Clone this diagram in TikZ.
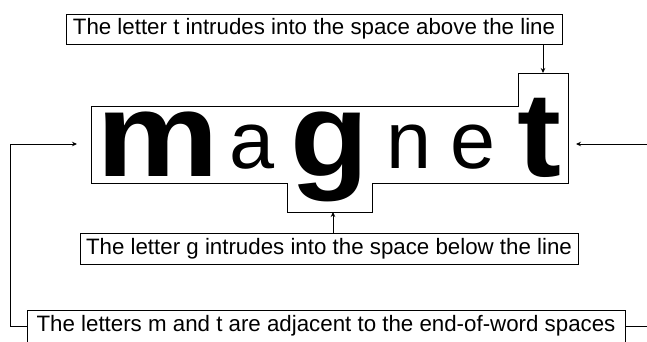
\documentclass[tikz,border=0pt]{standalone}
\usepackage{fontspec}
\setmainfont{Liberation Sans}
\usetikzlibrary{arrows.meta}
\tikzset{
  note/.style={draw=black, line width=0.9pt, inner sep=0pt, align=center,
    font=\fontsize{22.3}{24}\selectfont},
  big/.style={inner sep=0pt, anchor=base west,
    font=\fontsize{120}{120}\selectfont\bfseries},
  small/.style={inner sep=0pt, anchor=base west,
    font=\fontsize{81}{81}\selectfont},
  outline/.style={draw=black, line width=0.9pt},
  arr/.style={draw=black, line width=0.9pt, -{Stealth[length=5pt,width=4.5pt]}}
}
\begin{document}
\begin{tikzpicture}[x=1pt,y=-1pt]
\useasboundingbox (0,0) rectangle (647,341);
\fill[white] (0,0) rectangle (647,341);
\clip (0,0) rectangle (647,341);
% word outline
\draw[outline] (91,106) -- (518,106) -- (518,73) -- (568,73) -- (568,183)
  -- (372,183) -- (372,212) -- (287,212) -- (287,183) -- (91,183) -- cycle;
\coordinate (ttop) at (543,73);
\coordinate (gbot) at (333,212);
\coordinate (larr) at (77,144);
\coordinate (lbend) at (10,144);
\coordinate (rarr) at (576,144);
\coordinate (rbend) at (665,144);
% letters
\node[big] (m) at (96,176.5) {\scalebox{1.15}[1]{m}};
\node[small] (a) at (229,168) {a};
\node[big] (g) at (290,176.5) {\scalebox{1.07}[1]{g}};
\node[small] (n) at (386,168) {n};
\node[small] (e) at (450,168) {e};
\node[big] (t) at (517,176.5) {\scalebox{1.1}[1]{t}};
% notes
\node[note, minimum width=496pt, minimum height=30pt] (topnote) at (314,29)
  {The letter t intrudes into the space above the line};
\node[note, minimum width=498pt, minimum height=31pt] (gnote) at (329,248.5)
  {The letter g intrudes into the space below the line};
\node[note, minimum width=598pt, minimum height=32pt] (endnote) at (326,326)
  {The letters m and t are adjacent to the end-of-word spaces};
% connectors
\draw[arr] (topnote.south -| ttop) -- (ttop);
\draw[arr] (gnote.north -| gbot) -- (gbot);
\draw[arr] (endnote.west) -| (lbend) -- (larr);
\draw[arr] (endnote.east) -| (rbend) -- (rarr);
\end{tikzpicture}
\end{document}
